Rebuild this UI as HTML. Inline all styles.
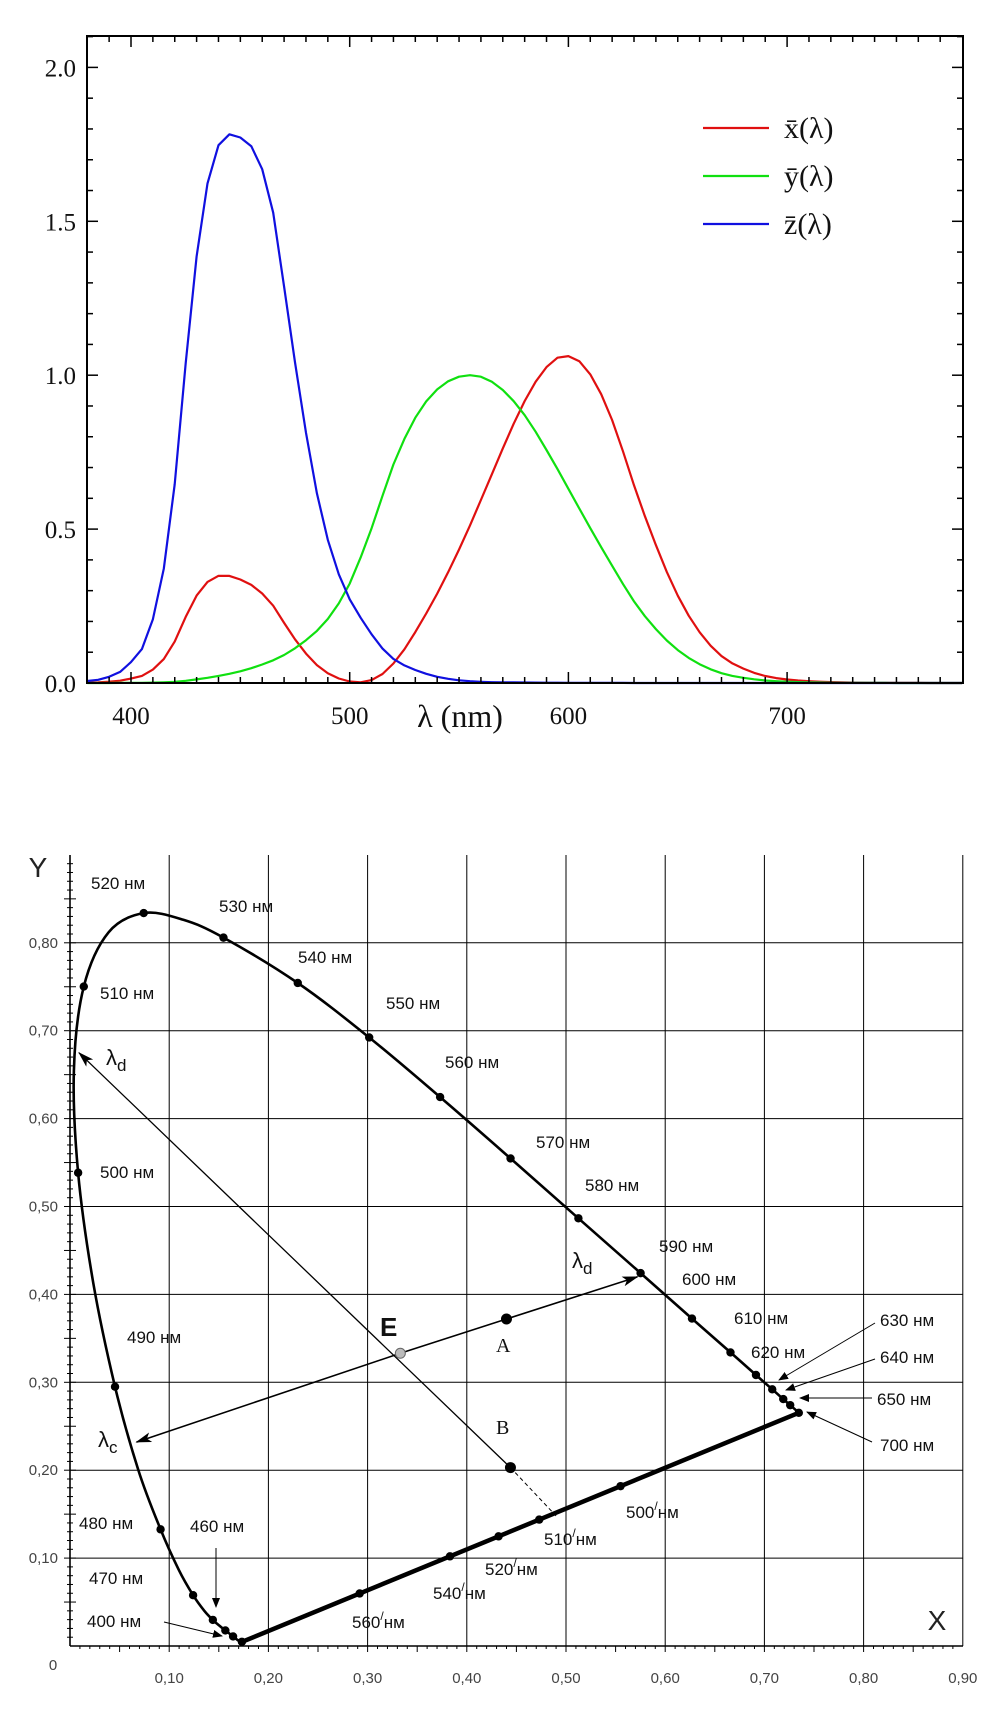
<!DOCTYPE html>
<html><head><meta charset="utf-8"><style>
html,body{margin:0;padding:0;background:#fff;}
svg{display:block;}
.serif{font-family:"Liberation Serif",serif;}
.sans{font-family:"Liberation Sans",sans-serif;}
</style></head><body>
<svg id="s" width="989" height="1723" viewBox="0 0 989 1723" xmlns="http://www.w3.org/2000/svg">
<g id="top"></g>
<g id="bot"></g>
</svg>
<script>
// ---------- top chart data ----------
const wl = [380,385,390,395,400,405,410,415,420,425,430,435,440,445,450,455,460,465,470,475,480,485,490,495,500,505,510,515,520,525,530,535,540,545,550,555,560,565,570,575,580,585,590,595,600,605,610,615,620,625,630,635,640,645,650,655,660,665,670,675,680,685,690,695,700,705,710,715,720,725,730,735,740,745,750,755,760,765,770,775,780];
const xbar = [.0014,.0022,.0042,.0076,.0143,.0232,.0435,.0776,.1344,.2148,.2839,.3285,.3483,.3481,.3362,.3187,.2908,.2511,.1954,.1421,.0956,.0580,.0320,.0147,.0049,.0024,.0093,.0291,.0633,.1096,.1655,.2257,.2904,.3597,.4334,.5121,.5945,.6784,.7621,.8425,.9163,.9786,1.0263,1.0567,1.0622,1.0456,1.0026,.9384,.8544,.7514,.6424,.5419,.4479,.3608,.2835,.2187,.1649,.1212,.0874,.0636,.0468,.0329,.0227,.0158,.0114,.0081,.0058,.0041,.0029,.0020,.0014,.0010,.0007,.0005,.0003,.0002,.0002,.0001,.0001,0,0];
const ybar = [0,.0001,.0001,.0002,.0004,.0006,.0012,.0022,.0040,.0073,.0116,.0168,.0230,.0298,.0380,.0480,.0600,.0739,.0910,.1126,.1390,.1693,.2080,.2586,.3230,.4073,.5030,.6082,.7100,.7932,.8620,.9149,.9540,.9803,.9950,1.0000,.9950,.9786,.9520,.9154,.8700,.8163,.7570,.6949,.6310,.5668,.5030,.4412,.3810,.3210,.2650,.2170,.1750,.1382,.1070,.0816,.0610,.0446,.0320,.0232,.0170,.0119,.0082,.0057,.0041,.0029,.0021,.0015,.0010,.0007,.0005,.0004,.0003,.0002,.0001,.0001,.0001,0,0,0,0];
const zbar = [.0065,.0105,.0201,.0362,.0679,.1102,.2074,.3713,.6456,1.0391,1.3856,1.6230,1.7471,1.7826,1.7721,1.7441,1.6692,1.5281,1.2876,1.0419,.8130,.6162,.4652,.3533,.2720,.2123,.1582,.1117,.0782,.0573,.0422,.0298,.0203,.0137,.0087,.0057,.0039,.0027,.0021,.0018,.0017,.0014,.0011,.0010,.0008,.0006,.0003,.0003,.0002,.0002,0,0,0,0,0,0,0,0,0,0,0,0,0,0,0,0,0,0,0,0,0,0,0,0,0,0,0,0,0,0,0];
const xTickLabels = [400,500,600,700];
const yTickLabels = ["0.0","0.5","1.0","1.5","2.0"];
const yTickValues = [0,0.5,1.0,1.5,2.0];

// ---------- bottom chart data ----------
const locusNm = [380,400,420,430,440,450,455,460,465,470,475,480,485,490,495,500,505,510,515,520,525,530,540,550,560,570,580,590,600,610,620,630,640,650,700];
const locusX = [.1741,.1733,.1714,.1689,.1644,.1566,.1510,.1440,.1355,.1241,.1096,.0913,.0687,.0454,.0235,.0082,.0039,.0139,.0389,.0743,.1142,.1547,.2296,.3016,.3731,.4441,.5125,.5752,.6270,.6658,.6915,.7079,.7190,.7260,.7347];
const locusY = [.0050,.0048,.0051,.0069,.0109,.0177,.0227,.0297,.0399,.0578,.0868,.1327,.2007,.2950,.4127,.5384,.6548,.7502,.8120,.8338,.8262,.8059,.7543,.6923,.6245,.5547,.4866,.4242,.3725,.3340,.3083,.2920,.2809,.2740,.2653];
const dotNm = [400,440,450,460,470,480,490,500,510,520,530,540,550,560,570,580,590,600,610,620,630,640,650,700];
const purpleDotX = [.292,.383,.432,.473,.555];
const gridX = [0,.1,.2,.3,.4,.5,.6,.7,.8,.9];
const gridXLabels = ["0","0,10","0,20","0,30","0,40","0,50","0,60","0,70","0,80","0,90"];
const gridY = [.1,.2,.3,.4,.5,.6,.7,.8];
const gridYLabels = ["0,10","0,20","0,30","0,40","0,50","0,60","0,70","0,80"];
const pointE = [.333,.333];
const pointA = [.44,.372];
const pointB = [.444,.203];
const lambdaC = [.067,.232];
const lambdaD1 = [.572,.42];
const lambdaD2 = [.009,.675];
const dashEnd = [.49,.148];

const NS = "http://www.w3.org/2000/svg";
function mk(parent, tag, attrs, text){
  const e = document.createElementNS(NS, tag);
  for (const k in attrs) e.setAttribute(k, attrs[k]);
  if (text !== undefined) e.textContent = text;
  parent.appendChild(e);
  return e;
}
function smoothPath(pts){
  let d = 'M'+pts[0][0].toFixed(1)+','+pts[0][1].toFixed(1);
  for (let i=0;i<pts.length-1;i++){
    const p0 = pts[Math.max(0,i-1)], p1 = pts[i], p2 = pts[i+1], p3 = pts[Math.min(pts.length-1,i+2)];
    const c1 = [p1[0]+(p2[0]-p0[0])/6, p1[1]+(p2[1]-p0[1])/6];
    const c2 = [p2[0]-(p3[0]-p1[0])/6, p2[1]-(p3[1]-p1[1])/6];
    d += 'C'+c1[0].toFixed(1)+','+c1[1].toFixed(1)+' '+c2[0].toFixed(1)+','+c2[1].toFixed(1)+' '+p2[0].toFixed(1)+','+p2[1].toFixed(1);
  }
  return d;
}

// ===== TOP CHART =====
const T = document.getElementById('top');
const tL=87, tR=963, tT=36, tB=683;
const tx = v => 131 + (v-400)*2.187;
const ty = v => 683 - v*307.8;
const series = [[xbar,'#e01010','curve-x-bar'],[ybar,'#10e010','curve-y-bar'],[zbar,'#1010e0','curve-z-bar']];
series.forEach(([arr,col,name])=>{
  let d = arr.map((v,i)=>(i?'L':'M')+tx(wl[i]).toFixed(1)+','+ty(v).toFixed(1)).join('');
  const p = mk(T,'path',{d:d,fill:'none',stroke:col,'stroke-width':2.2,'stroke-linejoin':'round'});
  
  
});
const fr = mk(T,'rect',{x:tL,y:tT,width:tR-tL,height:tB-tT,fill:'none',stroke:'#000','stroke-width':2});


for (let v=380; v<=780; v+=10){
  const X = tx(v); const major = v%100===0; const len = major?11:6;
  if (X<tL+1||X>tR-1) continue;
  mk(T,'line',{x1:X,y1:tB,x2:X,y2:tB-len,stroke:'#000','stroke-width':1.5});
  mk(T,'line',{x1:X,y1:tT,x2:X,y2:tT+len,stroke:'#000','stroke-width':1.5});
}
for (let k=1;k<=21;k++){
  const v=k*0.1; const Y=ty(v); const major = k%5===0; const len = major?11:6;
  mk(T,'line',{x1:tL,y1:Y,x2:tL+len,y2:Y,stroke:'#000','stroke-width':1.5});
  mk(T,'line',{x1:tR,y1:Y,x2:tR-len,y2:Y,stroke:'#000','stroke-width':1.5});
}
xTickLabels.forEach(v=>{
  const t = mk(T,'text',{x:tx(v),y:724,'text-anchor':'middle','font-size':25,class:'serif',fill:'#111'},String(v));
  
  
});
yTickLabels.forEach((s,i)=>{
  const t = mk(T,'text',{x:76,y:ty(yTickValues[i])+9,'text-anchor':'end','font-size':25,class:'serif',fill:'#111'},s);
  
  
});
const xt = mk(T,'text',{x:460,y:727,'text-anchor':'middle','font-size':32,class:'serif',fill:'#111'},'λ (nm)');


const legItems=[['x̄(λ)','#e01010',128],['ȳ(λ)','#10e010',176],['z̄(λ)','#1010e0',224]];
legItems.forEach(([s,c,y])=>{
  const g = mk(T,'g',{});
  
  
  mk(g,'line',{x1:703,y1:y,x2:769,y2:y,stroke:c,'stroke-width':2.2});
  mk(g,'text',{x:784,y:y+10,'font-size':30,class:'serif',fill:'#111'},s);
});

// ===== BOTTOM CHART =====
const B = document.getElementById('bot');
const bx = v => 70 + v*992;
const by = v => 1646 - v*879;
gridX.forEach((v,i)=>{
  const l = mk(B,'line',{x1:bx(v),y1:855,x2:bx(v),y2:1646,stroke:'#000','stroke-width':i===0?1.6:1});
  
  
  const t = mk(B,'text',{x:i===0?53:bx(v),y:i===0?1670:1683,'text-anchor':'middle','font-size':15,class:'sans',fill:'#444'},gridXLabels[i]);
  
  
});
const xa = mk(B,'line',{x1:70,y1:1646,x2:963,y2:1646,stroke:'#000','stroke-width':1.6});


gridY.forEach((v,i)=>{
  const l = mk(B,'line',{x1:70,y1:by(v),x2:963,y2:by(v),stroke:'#000','stroke-width':1});
  
  
  const t = mk(B,'text',{x:58,y:by(v)+5,'text-anchor':'end','font-size':15,class:'sans',fill:'#444'},gridYLabels[i]);
  
  
});
for (let k=1;k<90;k++){
  const Y = by(k*0.01); const len = k%5===0?6:3;
  mk(B,'line',{x1:70-len,y1:Y,x2:70+len,y2:Y,stroke:'#000','stroke-width':1});
  const X = bx(k*0.01);
  mk(B,'line',{x1:X,y1:1646,x2:X,y2:1646+len,stroke:'#000','stroke-width':1});
}
const yl = mk(B,'text',{x:38,y:877,'text-anchor':'middle','font-size':28,class:'sans',fill:'#222'},'Y');


const xl = mk(B,'text',{x:937,y:1630,'text-anchor':'middle','font-size':28,class:'sans',fill:'#222'},'X');



const locPts = locusX.map((v,i)=>[bx(v),by(locusY[i])]);
const loc = mk(B,'path',{d:smoothPath(locPts),fill:'none',stroke:'#000','stroke-width':2.6,'stroke-linejoin':'round'});


const pl = mk(B,'line',{x1:bx(locusX[0]),y1:by(locusY[0]),x2:bx(locusX[locusX.length-1]),y2:by(locusY[locusY.length-1]),stroke:'#000','stroke-width':4.5});


dotNm.forEach(nm=>{
  const i = locusNm.indexOf(nm);
  const c = mk(B,'circle',{cx:bx(locusX[i]),cy:by(locusY[i]),r:4.2,fill:'#000'});
  
  
});
const slope = (locusY[locusY.length-1]-locusY[0])/(locusX[locusX.length-1]-locusX[0]);
purpleDotX.forEach(v=>{
  const yv = locusY[0] + (v-locusX[0])*slope;
  const c = mk(B,'circle',{cx:bx(v),cy:by(yv),r:4.2,fill:'#000'});
  
  
});
const defs = mk(document.getElementById('s'),'defs',{});
const mkr = mk(defs,'marker',{id:'ah',markerWidth:10,markerHeight:8,refX:9,refY:4,orient:'auto',markerUnits:'userSpaceOnUse'});
mk(mkr,'path',{d:'M0,0 L10,4 L0,8 z',fill:'#000'});
const mkr2 = mk(defs,'marker',{id:'ah2',markerWidth:16,markerHeight:10,refX:15,refY:5,orient:'auto',markerUnits:'userSpaceOnUse'});
mk(mkr2,'path',{d:'M0,0 L16,5 L0,10 L4,5 z',fill:'#000'});
function arrow(p1,p2,name,w,m){
  const l = mk(B,'line',{x1:p1[0],y1:p1[1],x2:p2[0],y2:p2[1],stroke:'#000','stroke-width':w||1,'marker-end':'url(#'+(m||'ah')+')'});
  
  
}
arrow([bx(pointB[0]),by(pointB[1])],[bx(lambdaD2[0]),by(lambdaD2[1])],'line-b-to-lambda-d',1.3,'ah2');
const ds = mk(B,'line',{x1:bx(pointB[0]),y1:by(pointB[1]),x2:bx(dashEnd[0]),y2:by(dashEnd[1]),stroke:'#000','stroke-width':1,'stroke-dasharray':'4,3'});


arrow([bx(pointE[0]),by(pointE[1])],[bx(lambdaC[0]),by(lambdaC[1])],'line-e-to-lambda-c',1.6,'ah2');
arrow([bx(pointA[0]),by(pointA[1])],[bx(lambdaD1[0]),by(lambdaD1[1])],'line-a-to-lambda-d',1.6,'ah2');
const ea = mk(B,'line',{x1:bx(pointE[0]),y1:by(pointE[1]),x2:bx(pointA[0]),y2:by(pointA[1]),stroke:'#000','stroke-width':1.6});


const ce = mk(B,'circle',{cx:bx(pointE[0]),cy:by(pointE[1]),r:5,fill:'#bbb',stroke:'#666','stroke-width':1});


const ca = mk(B,'circle',{cx:bx(pointA[0]),cy:by(pointA[1]),r:5.5,fill:'#000'});


const cb = mk(B,'circle',{cx:bx(pointB[0]),cy:by(pointB[1]),r:5.5,fill:'#000'});


arrow([875,1323],[779,1380],'arrow-630');
arrow([875,1359],[786,1390],'arrow-640');
arrow([872,1398],[800,1398],'arrow-650');
arrow([872,1442],[807,1412],'arrow-700');
arrow([216,1548],[216,1607],'arrow-460');
arrow([164,1622],[222,1636],'arrow-400');
</script>
<script>
(function(){
const B = document.getElementById('bot');
const NS="http://www.w3.org/2000/svg";
const labels = [
["520 нм",91,889],["530 нм",219,912],["540 нм",298,963],["550 нм",386,1009],["560 нм",445,1068],
["570 нм",536,1148],["580 нм",585,1191],["590 нм",659,1252],["600 нм",682,1285],["610 нм",734,1324],
["620 нм",751,1358],["630 нм",880,1326],["640 нм",880,1363],["650 нм",877,1405],["700 нм",880,1451],
["510 нм",100,999],["500 нм",100,1178],["490 нм",127,1343],["480 нм",79,1529],["470 нм",89,1584],
["460 нм",190,1532],["400 нм",87,1627]];
labels.forEach(([s,x,y])=>{
  const t=document.createElementNS(NS,'text');
  t.setAttribute('x',x);t.setAttribute('y',y);t.setAttribute('font-size',17);
  t.setAttribute('class','sans');t.setAttribute('fill','#111');
  t.textContent=s;
  
  
  B.appendChild(t);
});
const primes=[["500",626,1518],["510",544,1545],["520",485,1575],["540",433,1599],["560",352,1628]];
primes.forEach(([s,x,y])=>{
  const t=document.createElementNS(NS,'text');
  t.setAttribute('x',x);t.setAttribute('y',y);t.setAttribute('font-size',17);
  t.setAttribute('class','sans');t.setAttribute('fill','#111');
  t.innerHTML=s+'<tspan dy="-8" font-size="12">/</tspan><tspan dy="8">нм</tspan>';
  
  
  B.appendChild(t);
});
const other=[["E",380,1336,26,'sans','bold'],["A",496,1352,20,'serif','normal'],["B",496,1434,20,'serif','normal']];
other.forEach(([s,x,y,fs,cl,fw])=>{
  const t=document.createElementNS(NS,'text');
  t.setAttribute('x',x);t.setAttribute('y',y);t.setAttribute('font-size',fs);
  t.setAttribute('class',cl);t.setAttribute('font-weight',fw);t.setAttribute('fill','#111');
  t.textContent=s;
  
  
  B.appendChild(t);
});
const lam=[["d",106,1065],["d",572,1268],["c",98,1447]];
lam.forEach(([sub,x,y])=>{
  const t=document.createElementNS(NS,'text');
  t.setAttribute('x',x);t.setAttribute('y',y);t.setAttribute('font-size',22);
  t.setAttribute('class','sans');t.setAttribute('fill','#111');
  t.innerHTML='λ<tspan dy="6" font-size="17">'+sub+'</tspan>';
  
  
  B.appendChild(t);
});
})();
</script>
</body></html>
